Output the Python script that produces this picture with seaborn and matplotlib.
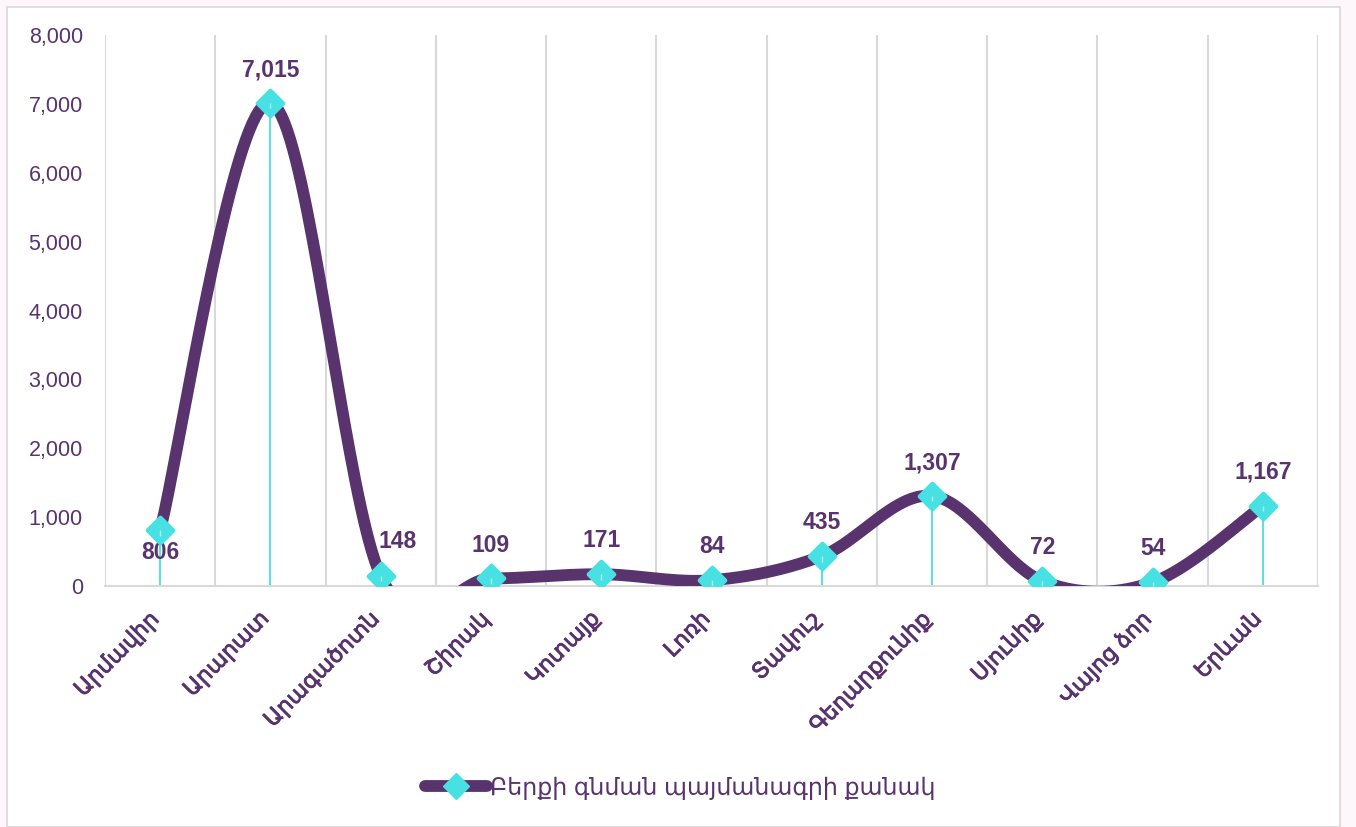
import matplotlib
matplotlib.use("Agg")
import matplotlib.pyplot as plt
import matplotlib.patheffects as pe
from matplotlib.lines import Line2D
from matplotlib.patches import Rectangle
import numpy as np
import pandas as pd
import seaborn as sns

# regions and number of harvest purchase contracts
regions = ['Արմավիր', 'Արարատ', 'Արագածոտն', 'Շիրակ', 'Կոտայք', 'Լոռի',
           'Տավուշ', 'Գեղարքունիք', 'Սյունիք', 'Վայոց ձոր', 'Երևան']
contracts = [806, 7015, 148, 109, 171, 84, 435, 1307, 72, 54, 1167]
series_name = 'Բերքի գնման պայմանագրի քանակ'
y_ticks = [0, 1000, 2000, 3000, 4000, 5000, 6000, 7000, 8000]

purple = '#58336e'
cyan = '#47e1e3'
drop = '#5fe0d8'
grid = '#d9d9d9'

sns.set_style('white')
plt.rcParams['font.family'] = ['Liberation Sans', 'DejaVu Sans']


def smooth(xs, ys, n=40):
    # excel style smoothed line (catmull-rom bezier through the points)
    xs = np.asarray(xs, float)
    ys = np.asarray(ys, float)
    px = np.concatenate([[xs[0]], xs, [xs[-1]]])
    py = np.concatenate([[ys[0]], ys, [ys[-1]]])
    out_x, out_y = [], []
    t = np.linspace(0, 1, n)
    for i in range(1, len(px) - 2):
        p0 = np.array([px[i], py[i]])
        p3 = np.array([px[i + 1], py[i + 1]])
        p1 = p0 + (np.array([px[i + 1], py[i + 1]]) - np.array([px[i - 1], py[i - 1]])) / 6
        p2 = p3 - (np.array([px[i + 2], py[i + 2]]) - np.array([px[i], py[i]])) / 6
        b = ((1 - t) ** 3)[:, None] * p0 + (3 * (1 - t) ** 2 * t)[:, None] * p1 \
            + (3 * (1 - t) * t ** 2)[:, None] * p2 + (t ** 3)[:, None] * p3
        out_x.extend(b[:, 0])
        out_y.extend(b[:, 1])
    return out_x, out_y


x = np.arange(len(regions))
df = pd.DataFrame({'x': x, 'value': contracts})
sx, sy = smooth(x, contracts)
curve = pd.DataFrame({'x': sx, 'value': sy})

fig = plt.figure(figsize=(13.56, 8.27), dpi=100)
fig.patch.set_facecolor('#fdf7fb')
fig.patches.append(Rectangle((7 / 1356, 0), 1333 / 1356, 820 / 827, transform=fig.transFigure,
                             facecolor='white', edgecolor=grid, linewidth=1.2, zorder=-5))
ax = fig.add_axes([105 / 1356, 1 - 586 / 827, 1213 / 1356, 551 / 827])
ax.set_facecolor('none')

# drop lines
ax.vlines(x, 0, contracts, color=drop, linewidth=1.5, zorder=2)

sns.lineplot(data=curve, x='x', y='value', sort=False, color=purple, linewidth=8.5,
             solid_capstyle='round', ax=ax, zorder=3, estimator=None)
sns.scatterplot(data=df, x='x', y='value', marker='D', s=170, color=cyan,
                edgecolor=cyan, linewidth=3, ax=ax, zorder=4)
ax.collections[-1].set_joinstyle('round')
ax.vlines(x, np.array(contracts) - 80, contracts, color='#b3eee9', linewidth=1, zorder=5)

ax.set_xlim(-0.5, len(regions) - 0.5)
ax.set_ylim(0, 8000)
ax.set_yticks(y_ticks)
ax.set_yticklabels([f'{v:,}' for v in y_ticks], color=purple, fontsize=15.5)
ax.set_xticks(x)
ax.set_xticklabels([])
ax.tick_params(axis='x', length=0)
ax.tick_params(axis='y', length=0, pad=16)
ax.set_xlabel('')
ax.set_ylabel('')

# category names, rotated like the excel axis
for i, name in enumerate(regions):
    ax.annotate(name, (i, 0), xytext=(-8.5, -16), textcoords='offset points',
                rotation=45, ha='right', va='top', rotation_mode='anchor',
                fontsize=16, color=purple, annotation_clip=False,
                path_effects=[pe.withStroke(linewidth=0.6, foreground=purple)])

# category boundaries as vertical gridlines
ax.set_xticks(np.arange(-0.5, len(regions)), minor=True)
ax.grid(False)
ax.grid(axis='x', which='minor', color=grid, linewidth=1.5)
ax.tick_params(axis='x', which='minor', length=0)
for s in ['top', 'right', 'left']:
    ax.spines[s].set_visible(False)
ax.spines['bottom'].set_color(grid)
ax.spines['bottom'].set_linewidth(1.5)

# data labels
for i, v in enumerate(contracts):
    if i == 0:
        ax.annotate(f'{v:,}', (i, v), xytext=(0, -16), textcoords='offset points',
                    ha='center', va='center', fontsize=16.5, fontweight='bold', color=purple)
    elif i == 2:
        ax.annotate(f'{v:,}', (i, v), xytext=(12, 25), textcoords='offset points',
                    ha='center', va='center', fontsize=16.5, fontweight='bold', color=purple,
                    arrowprops=dict(arrowstyle='-', color='#a6a6a6', lw=1.2, shrinkA=9, shrinkB=3))
    else:
        ax.annotate(f'{v:,}', (i, v), xytext=(0, 24), textcoords='offset points',
                    ha='center', va='center', fontsize=16.5, fontweight='bold', color=purple)

handle = Line2D([], [], color=purple, linewidth=8.5, solid_capstyle='round', marker='D',
                markersize=13, markerfacecolor=cyan, markeredgecolor=cyan)
fig.legend([handle], [series_name], loc='center', bbox_to_anchor=(0.502, 1 - 788 / 827),
           frameon=False, fontsize=17, labelcolor=purple, handlelength=2.6, handletextpad=0.15)

fig.savefig('out.png', dpi=100, facecolor=fig.get_facecolor())
